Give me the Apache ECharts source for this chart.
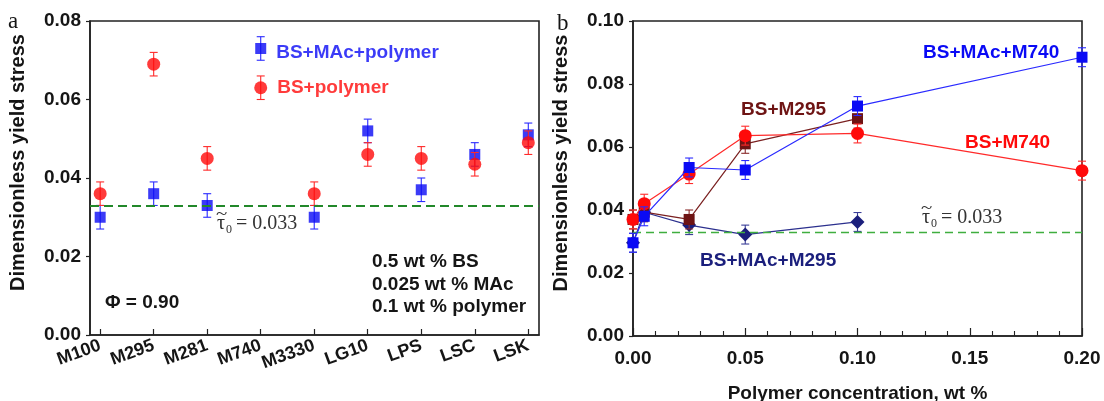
<!DOCTYPE html>
<html>
<head>
<meta charset="utf-8">
<script src="https://cdn.jsdelivr.net/npm/echarts@6/dist/echarts.min.js"></script>
<style>
  html, body { margin: 0; padding: 0; background: #fff; }
  #chart { width: 1104px; height: 401px; }
</style>
</head>
<body>
<div id="chart"></div>
<script>
// ---- Panel a: yield stress for each polymer at 0.1 wt % ----
const POLYMERS = ['M100', 'M295', 'M281', 'M740', 'M3330', 'LG10', 'LPS', 'LSC', 'LSK'];
const MAC_POLYMER = [0.030, 0.036, 0.033, 0.073, 0.030, 0.052, 0.037, 0.046, 0.051];
const MAC_POLYMER_ERR = [0.003, 0.003, 0.003, 0.003, 0.003, 0.003, 0.003, 0.003, 0.003];
const BS_POLYMER = [0.036, 0.069, 0.045, 0.063, 0.036, 0.046, 0.045, 0.0435, 0.049];
const BS_POLYMER_ERR = [0.003, 0.003, 0.003, 0.003, 0.003, 0.003, 0.003, 0.003, 0.003];
const LEGEND_INDEX = 3; // M740 points carry the series names
const NOTE_LINES = ['0.5 wt % BS', '0.025 wt % MAc', '0.1 wt % polymer'];
const PHI_TEXT = '\u03A6 = 0.90';

// ---- Panel b: yield stress vs polymer concentration ----
const CONC = [0, 0.005, 0.025, 0.05, 0.1, 0.2];
const MAC_M740 = [0.0296, 0.038, 0.0535, 0.0527, 0.073, 0.0885];
const MAC_M740_ERR = [0.003, 0.003, 0.003, 0.003, 0.003, 0.003];
const BS_M740 = [0.037, 0.042, 0.0514, 0.0636, 0.0643, 0.0525];
const BS_M740_ERR = [0.003, 0.003, 0.003, 0.003, 0.003, 0.003];
const CONC_M295 = [0, 0.005, 0.025, 0.05, 0.1];
const BS_M295 = [0.037, 0.0393, 0.037, 0.061, 0.069];
const BS_M295_ERR = [0.003, 0.003, 0.003, 0.003, 0.003];
const MAC_M295 = [0.0296, 0.0393, 0.0352, 0.0322, 0.0362];
const MAC_M295_ERR = [0.003, 0.003, 0.003, 0.003, 0.003];

const TAU0 = 0.033;

const SANS = '"Liberation Sans", Arial, sans-serif';
const SERIF = '"Liberation Serif", "DejaVu Serif", serif';
const BLUE = '#0a0af5';
const RED = '#ff0a0a';
const MAROON = '#6e1414';
const NAVY = '#1b1f7c';
const INK = '#151515';

function pairs(xs, ys) { return xs.map((x, i) => [x, ys[i]]); }
function errRows(xs, ys, es) { return xs.map((x, i) => [x, ys[i] - es[i], ys[i] + es[i]]); }

// vertical error bar with caps
function renderErr(params, api) {
  const x = api.value(0);
  const pLo = api.coord([x, api.value(1)]);
  const pHi = api.coord([x, api.value(2)]);
  const hw = 4;
  const style = { stroke: api.visual('color'), lineWidth: 1.1 };
  return {
    type: 'group',
    children: [
      { type: 'line', shape: { x1: pHi[0], y1: pHi[1], x2: pLo[0], y2: pLo[1] }, style },
      { type: 'line', shape: { x1: pHi[0] - hw, y1: pHi[1], x2: pHi[0] + hw, y2: pHi[1] }, style },
      { type: 'line', shape: { x1: pLo[0] - hw, y1: pLo[1], x2: pLo[0] + hw, y2: pLo[1] }, style }
    ]
  };
}

function errSeries(name, axis, rows, color, z) {
  return {
    name, type: 'custom', xAxisIndex: axis, yAxisIndex: axis,
    renderItem: renderErr, data: rows, encode: { x: 0, y: [1, 2] },
    itemStyle: { color }, z, silent: true, clip: false
  };
}

// "tau-tilde sub 0 = value" built from separate glyph pieces
function tauLabel(x, y) {
  const col = '#333';
  return {
    type: 'group', x, y, silent: true,
    children: [
      { type: 'text', x: 0, y: 0, style: { text: '\u03C4', font: '20px ' + SERIF, fill: col, verticalAlign: 'middle' } },
      { type: 'text', x: -1, y: -9, scaleX: 1.3, style: { text: '~', font: '16px ' + SERIF, fill: col, verticalAlign: 'middle' } },
      { type: 'text', x: 9, y: 6, style: { text: '0', font: '12px ' + SERIF, fill: col, verticalAlign: 'middle' } },
      { type: 'text', x: 19, y: 0, style: { text: '= ' + TAU0.toFixed(3), font: '20px ' + SERIF, fill: col, verticalAlign: 'middle' } }
    ]
  };
}

const catIdx = POLYMERS.map((_, i) => i);

const axisLabelStyle = { color: INK, fontFamily: SANS, fontWeight: 'bold', fontSize: 19 };
const axisLine = { show: true, onZero: false, lineStyle: { color: '#222', width: 1.6 } };

function yAxisFor(grid, max) {
  return {
    type: 'value', gridIndex: grid, min: 0, max, interval: 0.02,
    axisLine,
    axisTick: { show: true, inside: false, length: 4, lineStyle: { color: '#222', width: 1.2 } },
    axisLabel: Object.assign({ margin: 9, formatter: v => v.toFixed(2) }, axisLabelStyle),
    splitLine: { show: false },
    name: 'Dimensionless yield stress', nameLocation: 'middle', nameGap: 62,
    nameTextStyle: { color: INK, fontFamily: SANS, fontWeight: 'bold', fontSize: 20, padding: [0, 0, 0, 31] }
  };
}

function tauLine(color, width, dash) {
  return {
    silent: true, symbol: 'none', precision: 4, label: { show: false },
    lineStyle: { color, width, type: dash },
    data: [{ yAxis: TAU0 }]
  };
}

const option = {
  animation: false,
  backgroundColor: '#fff',
  grid: [
    { left: 90, top: 21, right: 565, bottom: 66, show: true, borderColor: '#222', borderWidth: 1.6, outerBoundsMode: 'none' },
    { left: 633, top: 21, right: 22, bottom: 65, show: true, borderColor: '#222', borderWidth: 1.6, outerBoundsMode: 'none' }
  ],
  xAxis: [
    {
      type: 'value', gridIndex: 0, min: -0.19, max: 8.2,
      axisLine,
      axisTick: { show: true, inside: true, length: 6, customValues: catIdx, lineStyle: { color: '#222', width: 1.2 } },
      axisLabel: { customValues: catIdx, rotate: 20, margin: 10, fontSize: 18,
        formatter: v => POLYMERS[Math.round(v)], color: INK, fontFamily: SANS, fontWeight: 'bold' },
      splitLine: { show: false }
    },
    {
      type: 'value', gridIndex: 1, min: 0, max: 0.2, interval: 0.05,
      axisLine,
      axisTick: { show: true, inside: true, length: 8, lineStyle: { color: '#222', width: 1.2 } },
      minorTick: { show: true, splitNumber: 5, length: 5, lineStyle: { color: '#222', width: 1.1 } },
      axisLabel: Object.assign({ margin: 13, formatter: v => v.toFixed(2) }, axisLabelStyle),
      splitLine: { show: false },
      name: 'Polymer concentration, wt %', nameLocation: 'middle', nameGap: 48,
      nameTextStyle: { color: INK, fontFamily: SANS, fontWeight: 'bold', fontSize: 19 }
    }
  ],
  yAxis: [yAxisFor(0, 0.08), yAxisFor(1, 0.1)],
  series: [
    // panel a
    errSeries('BS+MAc+polymer', 0, errRows(catIdx, MAC_POLYMER, MAC_POLYMER_ERR), '#2a2aff', 2),
    {
      name: 'BS+MAc+polymer', type: 'scatter', xAxisIndex: 0, yAxisIndex: 0,
      symbol: 'rect', symbolSize: 11, itemStyle: { color: BLUE }, z: 3,
      data: pairs(catIdx, MAC_POLYMER).map((p, i) => i === LEGEND_INDEX ? {
        value: p,
        label: { show: true, position: 'right', distance: 10, offset: [0, 4], formatter: '{a}',
          color: BLUE, fontFamily: SANS, fontWeight: 'bold', fontSize: 19 }
      } : p),
      markLine: tauLine('#22882a', 2, [9, 5])
    },
    errSeries('BS+polymer', 0, errRows(catIdx, BS_POLYMER, BS_POLYMER_ERR), '#ff2a2a', 4),
    {
      name: 'BS+polymer', type: 'scatter', xAxisIndex: 0, yAxisIndex: 0,
      symbol: 'circle', symbolSize: 13, itemStyle: { color: RED }, z: 5,
      data: pairs(catIdx, BS_POLYMER).map((p, i) => i === LEGEND_INDEX ? {
        value: p,
        label: { show: true, position: 'right', distance: 10, formatter: '{a}',
          color: RED, fontFamily: SANS, fontWeight: 'bold', fontSize: 19 }
      } : p)
    },
    // panel b
    errSeries('BS+MAc+M295', 1, errRows(CONC_M295, MAC_M295, MAC_M295_ERR), '#3a3e98', 2),
    {
      name: 'BS+MAc+M295', type: 'line', xAxisIndex: 1, yAxisIndex: 1,
      data: pairs(CONC_M295, MAC_M295), symbol: 'diamond', symbolSize: 14, showSymbol: true,
      lineStyle: { color: '#2c308e', width: 1.2 }, itemStyle: { color: NAVY }, z: 3,
      markLine: tauLine('#3fae3f', 1.3, [8, 5])
    },
    errSeries('BS+M295', 1, errRows(CONC_M295, BS_M295, BS_M295_ERR), '#8a2a2a', 4),
    {
      name: 'BS+M295', type: 'line', xAxisIndex: 1, yAxisIndex: 1,
      data: pairs(CONC_M295, BS_M295), symbol: 'rect', symbolSize: 11, showSymbol: true,
      lineStyle: { color: '#7a2020', width: 1.2 }, itemStyle: { color: MAROON }, z: 5
    },
    errSeries('BS+M740', 1, errRows(CONC, BS_M740, BS_M740_ERR), '#ff2a2a', 6),
    {
      name: 'BS+M740', type: 'line', xAxisIndex: 1, yAxisIndex: 1,
      data: pairs(CONC, BS_M740), symbol: 'circle', symbolSize: 13, showSymbol: true,
      lineStyle: { color: '#ff2a2a', width: 1.2 }, itemStyle: { color: RED }, z: 7
    },
    errSeries('BS+MAc+M740', 1, errRows(CONC, MAC_M740, MAC_M740_ERR), '#2a2aff', 8),
    {
      name: 'BS+MAc+M740', type: 'line', xAxisIndex: 1, yAxisIndex: 1,
      data: pairs(CONC, MAC_M740), symbol: 'rect', symbolSize: 11, showSymbol: true,
      lineStyle: { color: '#2a2aff', width: 1.2 }, itemStyle: { color: BLUE }, z: 9
    }
  ],
  graphic: [
    { type: 'text', x: 8, y: 22, style: { text: 'a', font: '23px ' + SERIF, fill: INK, verticalAlign: 'middle' } },
    { type: 'text', x: 557, y: 24, style: { text: 'b', font: '23px ' + SERIF, fill: INK, verticalAlign: 'middle' } },
    { type: 'text', x: 105, y: 303, style: { text: PHI_TEXT, font: 'bold 19px ' + SANS, fill: INK, verticalAlign: 'middle' } },
    ...NOTE_LINES.map((t, i) => ({
      type: 'text', x: 372, y: 262 + i * 22.5,
      style: { text: t, font: 'bold 19px ' + SANS, fill: INK, verticalAlign: 'middle' }
    })),
    tauLabel(217, 224),
    tauLabel(922, 218),
    { type: 'text', x: 923, y: 53, style: { text: 'BS+MAc+M740', font: 'bold 19px ' + SANS, fill: BLUE, verticalAlign: 'middle' } },
    { type: 'text', x: 741, y: 110, style: { text: 'BS+M295', font: 'bold 19px ' + SANS, fill: MAROON, verticalAlign: 'middle' } },
    { type: 'text', x: 965, y: 143, style: { text: 'BS+M740', font: 'bold 19px ' + SANS, fill: RED, verticalAlign: 'middle' } },
    { type: 'text', x: 700, y: 261, style: { text: 'BS+MAc+M295', font: 'bold 19px ' + SANS, fill: NAVY, verticalAlign: 'middle' } }
  ]
};

const chart = echarts.init(document.getElementById('chart'), null, { renderer: 'canvas' });
chart.setOption(option);
</script>
</body>
</html>
